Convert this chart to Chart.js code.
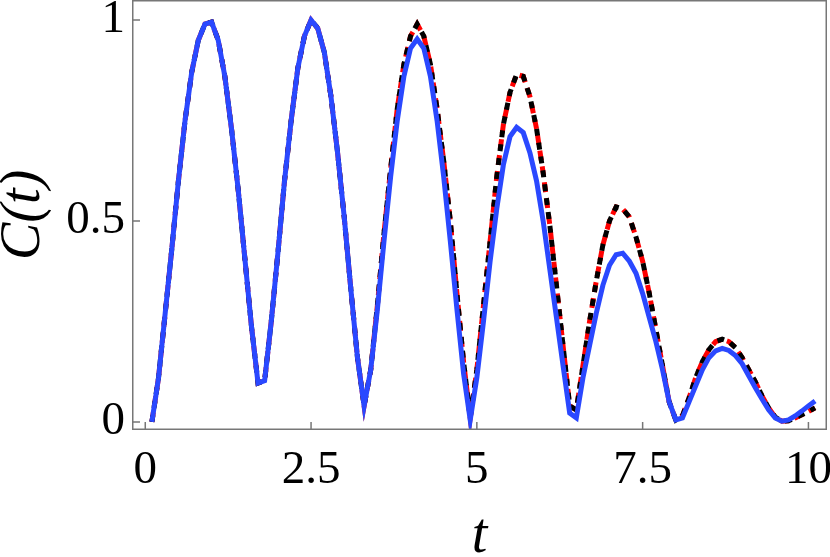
<!DOCTYPE html>
<html>
<head>
<meta charset="utf-8">
<script src="https://cdn.jsdelivr.net/npm/chart.js@4.4.1/dist/chart.umd.min.js"></script>
<style>
    body { margin: 0; background: #fff; }
</style>
</head>
<body>
<canvas id="corrChart" width="830" height="557"></canvas>
<script>
// sample times (step looks like 0.1)
const tValues = [0.1, 0.2, 0.3, 0.4, 0.5, 0.6, 0.7, 0.8, 0.9, 1.0,
    1.1, 1.2, 1.3, 1.4, 1.5, 1.6, 1.7, 1.8, 1.9, 2.0,
    2.1, 2.2, 2.3, 2.4, 2.5, 2.6, 2.7, 2.8, 2.9, 3.0,
    3.1, 3.2, 3.3, 3.4, 3.5, 3.6, 3.7, 3.8, 3.9, 4.0,
    4.1, 4.2, 4.3, 4.4, 4.5, 4.6, 4.7, 4.8, 4.9, 5.0,
    5.1, 5.2, 5.3, 5.4, 5.5, 5.6, 5.7, 5.8, 5.9, 6.0,
    6.1, 6.2, 6.3, 6.4, 6.5, 6.6, 6.7, 6.8, 6.9, 7.0,
    7.1, 7.2, 7.3, 7.4, 7.5, 7.6, 7.7, 7.8, 7.9, 8.0,
    8.1, 8.2, 8.3, 8.4, 8.5, 8.6, 8.7, 8.8, 8.9, 9.0,
    9.1, 9.2, 9.3, 9.4, 9.5, 9.6, 9.7, 9.8, 9.9, 10.0, 10.1];

// red dashed curve
const redC = [0, 0.11, 0.27, 0.43, 0.60, 0.75, 0.87, 0.95, 0.99, 0.995,
    0.95, 0.86, 0.73, 0.58, 0.41, 0.24, 0.097, 0.103, 0.25, 0.42,
    0.60, 0.75, 0.88, 0.96, 1.0, 0.98, 0.92, 0.81, 0.67, 0.51,
    0.33, 0.16, 0.04, 0.13, 0.29, 0.47, 0.63, 0.78, 0.89, 0.96,
    0.99, 0.96, 0.89, 0.78, 0.65, 0.50, 0.32, 0.15, 0.01, 0.13,
    0.29, 0.45, 0.61, 0.74, 0.82, 0.865, 0.86, 0.81, 0.73, 0.62,
    0.49, 0.34, 0.19, 0.04, 0.03, 0.14, 0.25, 0.35, 0.44, 0.50,
    0.535, 0.53, 0.51, 0.46, 0.40, 0.32, 0.23, 0.14, 0.05, 0.005,
    0.015, 0.06, 0.11, 0.15, 0.18, 0.20, 0.206, 0.20, 0.185, 0.16,
    0.13, 0.10, 0.065, 0.035, 0.012, 0.002, 0.003, 0.01, 0.018, 0.026, 0.035];

// black dashed curve (sits right on top of the red one)
const blackC = [0, 0.11, 0.27, 0.43, 0.60, 0.75, 0.87, 0.95, 0.99, 0.995,
    0.95, 0.86, 0.73, 0.58, 0.41, 0.24, 0.097, 0.103, 0.25, 0.42,
    0.60, 0.75, 0.88, 0.96, 1.0, 0.98, 0.92, 0.81, 0.67, 0.51,
    0.33, 0.16, 0.04, 0.13, 0.29, 0.47, 0.63, 0.78, 0.89, 0.96,
    0.99, 0.96, 0.89, 0.78, 0.65, 0.50, 0.32, 0.15, 0.01, 0.13,
    0.29, 0.45, 0.61, 0.74, 0.82, 0.865, 0.86, 0.81, 0.73, 0.62,
    0.49, 0.34, 0.19, 0.04, 0.03, 0.14, 0.25, 0.35, 0.44, 0.50,
    0.535, 0.53, 0.51, 0.46, 0.40, 0.32, 0.23, 0.14, 0.05, 0.005,
    0.015, 0.06, 0.11, 0.15, 0.18, 0.20, 0.206, 0.20, 0.185, 0.16,
    0.13, 0.10, 0.065, 0.035, 0.012, 0.002, 0.003, 0.01, 0.018, 0.026, 0.035];

// blue solid curve
const blueC = [0, 0.11, 0.27, 0.43, 0.60, 0.75, 0.87, 0.95, 0.99, 0.995,
    0.95, 0.86, 0.73, 0.58, 0.41, 0.24, 0.097, 0.103, 0.25, 0.42,
    0.60, 0.75, 0.88, 0.96, 1.0, 0.98, 0.92, 0.81, 0.67, 0.51,
    0.33, 0.16, 0.04, 0.13, 0.28, 0.45, 0.61, 0.75, 0.86, 0.93,
    0.953, 0.93, 0.86, 0.75, 0.61, 0.45, 0.28, 0.12, 0.005, 0.11,
    0.25, 0.40, 0.53, 0.64, 0.71, 0.733, 0.72, 0.67, 0.60, 0.50,
    0.38, 0.26, 0.14, 0.022, 0.01, 0.11, 0.19, 0.27, 0.34, 0.39,
    0.416, 0.42, 0.40, 0.37, 0.32, 0.26, 0.20, 0.13, 0.05, 0.005,
    0.01, 0.05, 0.09, 0.13, 0.16, 0.177, 0.183, 0.178, 0.165, 0.145,
    0.115, 0.085, 0.057, 0.03, 0.01, 0.002, 0.005, 0.015, 0.027, 0.04, 0.052];

// axis ticks
const xTicks = [0, 2.5, 5, 7.5, 10];
const xTickLabels = ['0', '2.5', '5', '7.5', '10'];
const yTicks = [0, 0.5, 1];
const yTickLabels = ['0', '0.5', '1'];

const frameGray = '#777';
const serif = "'Liberation Serif', 'Times New Roman', Times, serif";

function toPoints(ys) {
    return tValues.map((t, i) => ({ x: t, y: ys[i] }));
}

// frame all around + the short inward ticks (bottom and left only)
const framePlugin = {
    id: 'frame',
    afterDraw(chart) {
        const { ctx, chartArea: a, scales } = chart;
        ctx.save();
        ctx.strokeStyle = frameGray;
        ctx.lineWidth = 1.5;
        ctx.strokeRect(a.left + 0.75, a.top + 0.75, a.right - a.left - 1.5, a.bottom - a.top - 1.5);
        ctx.beginPath();
        xTicks.forEach(v => {
            const px = scales.x.getPixelForValue(v);
            ctx.moveTo(px, a.bottom);
            ctx.lineTo(px, a.bottom - 8);
        });
        yTicks.forEach(v => {
            const py = scales.y.getPixelForValue(v);
            ctx.moveTo(a.left, py);
            ctx.lineTo(a.left + 8, py);
        });
        ctx.stroke();
        ctx.restore();
    }
};

const ctx = document.getElementById('corrChart').getContext('2d');
new Chart(ctx, {
    type: 'line',
    data: {
        datasets: [
            {
                label: 'red',
                data: toPoints(redC),
                borderColor: '#ff0000',
                borderWidth: 5,
                borderDash: [10, 6],
                pointRadius: 0,
                order: 3
            },
            {
                label: 'black',
                data: toPoints(blackC),
                borderColor: '#000000',
                borderWidth: 5,
                borderDash: [7, 7],
                pointRadius: 0,
                order: 2
            },
            {
                label: 'blue',
                data: toPoints(blueC),
                borderColor: 'rgb(42, 72, 255)',
                borderWidth: 5,
                pointRadius: 0,
                order: 1
            }
        ]
    },
    options: {
        responsive: false,
        animation: false,
        events: [],
        layout: { padding: { top: 0, right: 3, left: 0, bottom: 0 } },
        plugins: {
            legend: { display: false },
            tooltip: { enabled: false }
        },
        scales: {
            x: {
                type: 'linear',
                min: -0.2,
                max: 10.28,
                grid: { display: false, drawTicks: false },
                border: { display: false },
                afterBuildTicks: (scale) => { scale.ticks = xTicks.map(v => ({ value: v })); },
                afterFit: (scale) => {
                    scale.height = 127;
                    scale.paddingLeft = 0;
                    scale.paddingRight = 0;
                },
                ticks: {
                    padding: 12,
                    color: '#000',
                    font: { family: serif, size: 47 },
                    maxRotation: 0,
                    callback: (v, i) => xTickLabels[i]
                },
                title: {
                    display: true,
                    text: 't',
                    color: '#000',
                    padding: { top: 0, bottom: 0 },
                    font: { family: serif, size: 56, style: 'italic', lineHeight: 0.7 }
                }
            },
            y: {
                type: 'linear',
                min: -0.02,
                max: 1.05,
                grid: { display: false, drawTicks: false },
                border: { display: false },
                afterBuildTicks: (scale) => { scale.ticks = yTicks.map(v => ({ value: v })); },
                afterFit: (scale) => {
                    scale.width = 132;
                    scale.paddingTop = 0;
                    scale.paddingBottom = 0;
                },
                ticks: {
                    padding: 7,
                    color: '#000',
                    font: { family: serif, size: 47 },
                    callback: (v, i) => yTickLabels[i]
                },
                title: {
                    display: true,
                    text: 'C(t)',
                    color: '#000',
                    padding: { top: 0, bottom: 0 },
                    font: { family: serif, size: 56, style: 'italic', lineHeight: 0.85 }
                }
            }
        }
    },
    plugins: [framePlugin]
});
</script>
</body>
</html>
